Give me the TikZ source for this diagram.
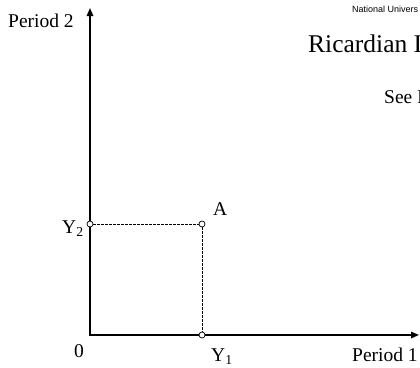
\documentclass[tikz,border=0pt]{standalone}
\usepackage{fontspec}
\setmainfont{Liberation Serif}
\newfontfamily\headsans{Liberation Sans}
\usetikzlibrary{arrows.meta, positioning}
\tikzset{
    >={Triangle[length=8pt,width=6.5pt]},
    % Lines
    axis/.style={<->, line width=1.6pt, line join=miter, black},
    guide/.style={line width=0.6pt, dash pattern=on 2.5pt off 1.5pt},
    % Shapes
    pt/.style={circle, draw, line width=0.7pt, fill=white, inner sep=0pt, minimum size=6pt},
    % Labels
    lbl/.style={inner sep=0pt, anchor=base west, font=\fontsize{19.5}{22}\selectfont}
}

\begin{document}
\begin{tikzpicture}[x=1pt, y=1pt]
\useasboundingbox (0,0) rectangle (420,-367);
\clip (0,0) rectangle (420,-367);

\coordinate (o) at (90,-335);
\coordinate (ytop) at (90,-8);
\coordinate (xend) at (419,-335);

% axes
\draw[axis] (ytop) -- (o) -- (xend);

% points
\node[pt] (y2) at (90,-224) {};
\node[pt] (a) at (202,-224) {};
\node[pt] (y1) at (202,-335) {};
\draw[guide] (y2) -- (a) -- (y1);

% labels
\node[lbl] (p2) at (8,-27) {Period 2};
\node[lbl] (p1) at (352,-361) {Period 1};
\node[lbl] (zero) at (74,-357) {0};
\node[lbl] (y1lbl) at (211,-361) {Y\textsubscript{1}};
\node[lbl] (y2lbl) at (62,-233) {Y\textsubscript{2}};
\node[lbl] (albl) at (213,-215) {A};

% heading
\node[lbl, font=\headsans\fontsize{9}{11}\selectfont] (inst) at (352,-12) {National Univers};
\node[lbl, font=\fontsize{25.5}{30}\selectfont] (title) at (308,-52) {Ricardian I};
\node[lbl] (see) at (384,-103) {See I};

\end{tikzpicture}
\end{document}
